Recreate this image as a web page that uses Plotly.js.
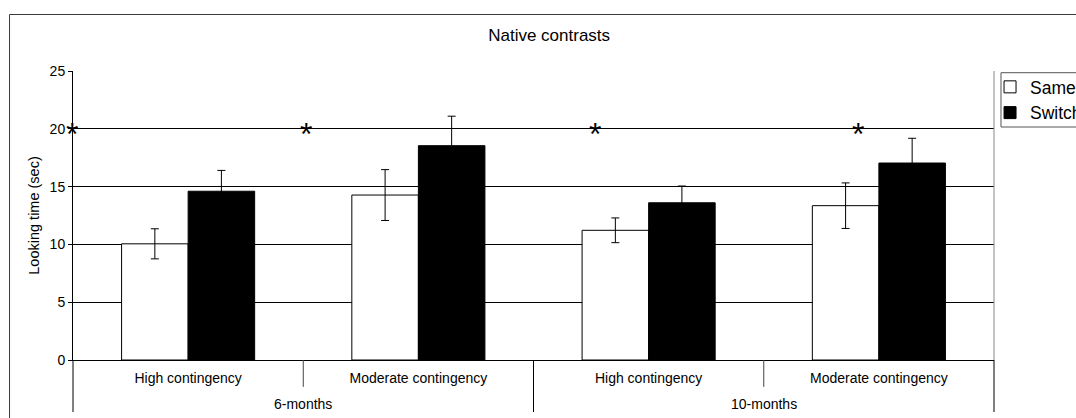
<!DOCTYPE html>
<html>
<head>
<meta charset="utf-8">
<script src="https://cdn.plot.ly/plotly-3.0.1.min.js"></script>
<style>
html,body{margin:0;padding:0;background:#fff;overflow:hidden;}
#chart{width:1076px;height:418px;}
</style>
</head>
<body>
<div id="chart"></div>
<script>
// ---- data ----
var contingency = ['High contingency', 'Moderate contingency', 'High contingency', 'Moderate contingency'];
var ageGroups = ['6-months', '10-months'];
var seriesNames = ['Same', 'Switch'];
var sameMeans = [10.05, 14.27, 11.22, 13.35];
var sameErr = [1.3, 2.2, 1.07, 1.97];
var switchMeans = [14.6, 18.54, 13.6, 17.04];
var switchErr = [1.8, 2.55, 1.45, 2.14];
var yTicks = [0, 5, 10, 15, 20, 25];
// significance stars at y = 20 (paper x positions across the plot width)
var starX = [-0.001, 0.253, 0.5665, 0.852];
var starY = 20;
var chartTitle = 'Native contrasts';
var yTitle = 'Looking time (sec)';

var FONT = 'Liberation Sans, Arial, sans-serif';

// category positions (index on the category scale)
var catPos = contingency.map(function (_, i) { return i; });
// age-group label sits in the middle of its two sub-categories
var agePos = ageGroups.map(function (_, g) { return 2 * g + 0.5; });

var traces = [
  {
    type: 'bar', name: seriesNames[0],
    x: catPos, y: sameMeans,
    marker: {color: '#ffffff', line: {color: '#000000', width: 1}},
    error_y: {type: 'data', array: sameErr, visible: true, color: '#000000', thickness: 1, width: 4},
    hoverinfo: 'y'
  },
  {
    type: 'bar', name: seriesNames[1],
    x: catPos, y: switchMeans,
    marker: {color: '#000000', line: {color: '#000000', width: 1}},
    error_y: {type: 'data', array: switchErr, visible: true, color: '#000000', thickness: 1, width: 4},
    hoverinfo: 'y'
  }
];

var annotations = starX.map(function (sx) {
  return {
    xref: 'paper', yref: 'y', x: sx, y: starY,
    text: '*', showarrow: false,
    font: {family: FONT, size: 32, color: '#000'},
    xanchor: 'center', yanchor: 'middle', yshift: -5
  };
});
// second-level (age group) labels
ageGroups.forEach(function (g, i) {
  annotations.push({
    xref: 'x', yref: 'paper', x: agePos[i], y: -0.152,
    text: g, showarrow: false,
    font: {family: FONT, size: 14, color: '#000'},
    xanchor: 'center', yanchor: 'middle'
  });
});

var shapes = [
  // outer chart-area border
  {type: 'rect', xref: 'paper', yref: 'paper', x0: -0.0689, x1: 1.3, y0: -0.5, y1: 1.1955,
   line: {color: '#3a3a3a', width: 1}, fillcolor: 'rgba(0,0,0,0)', layer: 'below'},
  // plot-area right border (grey)
  {type: 'line', xref: 'paper', yref: 'paper', x0: 1, x1: 1, y0: 0, y1: 1,
   line: {color: '#8a8a8a', width: 1}},
  // long dividers between age groups and at both ends
  {type: 'line', xref: 'paper', yref: 'paper', x0: 0, x1: 0, y0: 0, y1: -0.18,
   line: {color: '#000', width: 1}},
  {type: 'line', xref: 'paper', yref: 'paper', x0: 0.5, x1: 0.5, y0: 0, y1: -0.18,
   line: {color: '#000', width: 1}},
  {type: 'line', xref: 'paper', yref: 'paper', x0: 1, x1: 1, y0: 0, y1: -0.18,
   line: {color: '#000', width: 1}},
  // legend box
  {type: 'rect', xref: 'paper', yref: 'paper', x0: 1.0076, x1: 1.3, y0: 0.8062, y1: 0.9941,
   line: {color: '#555', width: 1}, fillcolor: 'rgba(0,0,0,0)'}
];
// short ticks between sub-categories (centre of each age group)
agePos.forEach(function (p) {
  shapes.push({type: 'line', xref: 'x', yref: 'paper', x0: p, x1: p, y0: 0, y1: -0.093,
               line: {color: '#444', width: 1}});
});

var layout = {
  width: 1076, height: 418,
  margin: {l: 73, r: 82, t: 71, b: 58, autoexpand: false},
  paper_bgcolor: '#ffffff', plot_bgcolor: '#ffffff',
  font: {family: FONT, size: 14, color: '#000'},
  title: {text: chartTitle, font: {family: FONT, size: 17, color: '#000'},
          xref: 'paper', x: 0.517, xanchor: 'center',
          yref: 'container', y: 0.916, yanchor: 'middle'},
  barmode: 'group', bargap: 0.422, bargroupgap: 0,
  showlegend: true,
  legend: {x: 0.9957, xanchor: 'left', y: 1.007, yanchor: 'top',
           font: {family: FONT, size: 17.5, color: '#000'},
           borderwidth: 0, bgcolor: 'rgba(0,0,0,0)', traceorder: 'normal'},
  xaxis: {
    type: 'linear', range: [-0.5, 3.5],
    tickmode: 'array', tickvals: catPos, ticktext: contingency,
    showgrid: false, zeroline: false,
    showline: true, linecolor: '#000', linewidth: 1,
    ticks: '', ticklabelstandoff: 5,
    tickfont: {family: FONT, size: 14, color: '#000'},
    fixedrange: true
  },
  yaxis: {
    range: [0, 25], tickvals: yTicks, ticktext: yTicks.map(String),
    showgrid: true, gridcolor: '#000', gridwidth: 1,
    zeroline: false,
    showline: true, linecolor: '#000', linewidth: 1,
    ticks: 'outside', ticklen: 4, tickcolor: '#000',
    tickfont: {family: FONT, size: 14, color: '#000'},
    title: {text: yTitle, font: {family: FONT, size: 14.5, color: '#000'}, standoff: 6},
    fixedrange: true
  },
  annotations: annotations,
  shapes: shapes
};

Plotly.newPlot('chart', traces, layout, {displayModeBar: false, staticPlot: true});
</script>
</body>
</html>
